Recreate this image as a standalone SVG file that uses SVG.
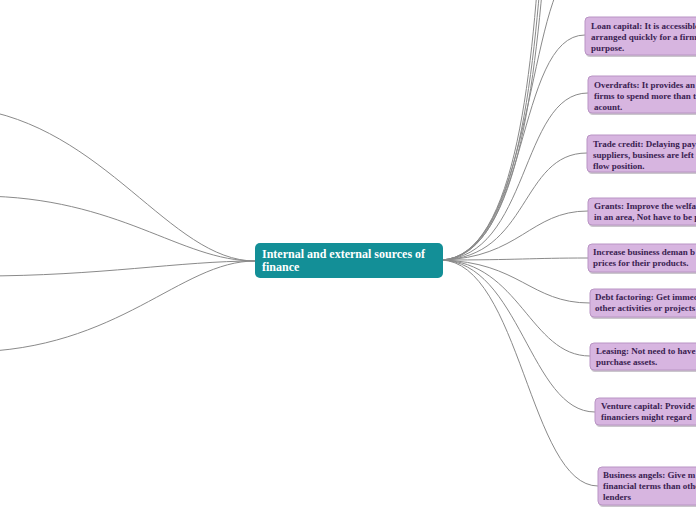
<svg xmlns="http://www.w3.org/2000/svg" width="696" height="520" viewBox="0 0 696 520">
<style>
.c{fill:none;stroke:#8a8a8a;stroke-width:1}
.n rect.b{fill:#d7b5e0;stroke:#b994c4;stroke-width:1}
.n rect.s{fill:#a9a0ab;opacity:0.6}
.n text{font-family:"Liberation Serif","Times New Roman",serif;font-weight:bold;font-size:9px;fill:#3a2150}
#root text{font-family:"Liberation Serif","Times New Roman",serif;font-weight:bold;font-size:12px;fill:#ffffff}
</style>
<rect width="696" height="520" fill="#ffffff"/>
<g id="connectors">
<path class="c" d="M255,261 C170,261 105,125 -30,108"/>
<path class="c" d="M255,261 C180,261 120,197 -20,196"/>
<path class="c" d="M255,261 C180,261 100,276 -20,276"/>
<path class="c" d="M255,261 C180,261 120,350 -30,352"/>
<path class="c" d="M441,260 C518,258 533,60 542,-80"/>
<path class="c" d="M441,260 C520,258 535,60 545,-80"/>
<path class="c" d="M441,260 C522,258 537,60 548,-80"/>
<path class="c" d="M441,260 C528,258 528,10 570,-30"/>
<path class="c" d="M441,260 C530,258 515,35 585,35"/>
<path class="c" d="M441,260 C530,258 520,93 588,93"/>
<path class="c" d="M441,260 C530,258 520,153 587,153"/>
<path class="c" d="M441,260 C520,258 530,211 588,211"/>
<path class="c" d="M441,260 C520,260 530,258 588,258"/>
<path class="c" d="M441,260 C520,262 530,303 590,303"/>
<path class="c" d="M441,260 C520,262 530,356 590,356"/>
<path class="c" d="M441,260 C520,262 530,412 595,412"/>
<path class="c" d="M441,260 C520,262 530,486 598,486"/>
</g>
<g id="root">
<rect x="255" y="243" width="188" height="35" rx="5" fill="#138f97"/>
<text x="262" y="258">Internal and external sources of</text>
<text x="262" y="271">finance</text>
</g>
<g id="n1" class="n">
<rect class="s" x="586" y="19" width="200" height="38" rx="4"/>
<rect class="b" x="585" y="17" width="200" height="38" rx="4"/>
<text x="591" y="29">Loan capital: It is accessible</text>
<text x="591" y="40">arranged quickly for a firm</text>
<text x="591" y="51">purpose.</text>
</g>
<g id="n2" class="n">
<rect class="s" x="589" y="78" width="200" height="37" rx="4"/>
<rect class="b" x="588" y="76" width="200" height="37" rx="4"/>
<text x="594" y="88">Overdrafts: It provides an</text>
<text x="594" y="99">firms to spend more than t</text>
<text x="594" y="110">acount.</text>
</g>
<g id="n3" class="n">
<rect class="s" x="588" y="137" width="200" height="37" rx="4"/>
<rect class="b" x="587" y="135" width="200" height="37" rx="4"/>
<text x="593" y="147">Trade credit: Delaying pay</text>
<text x="593" y="158">suppliers, business are left i</text>
<text x="593" y="169">flow position.</text>
</g>
<g id="n4" class="n">
<rect class="s" x="589" y="200" width="200" height="27" rx="4"/>
<rect class="b" x="588" y="198" width="200" height="27" rx="4"/>
<text x="594" y="209">Grants: Improve the welfa</text>
<text x="594" y="220">in an area, Not have to be p</text>
</g>
<g id="n5" class="n">
<rect class="s" x="589" y="246" width="200" height="28" rx="4"/>
<rect class="b" x="588" y="244" width="200" height="28" rx="4"/>
<text x="593" y="255">Increase business deman b</text>
<text x="593" y="266">prices for their products.</text>
</g>
<g id="n6" class="n">
<rect class="s" x="591" y="291" width="200" height="28" rx="4"/>
<rect class="b" x="590" y="289" width="200" height="28" rx="4"/>
<text x="595" y="300">Debt factoring: Get immed</text>
<text x="595" y="311">other activities or projects</text>
</g>
<g id="n7" class="n">
<rect class="s" x="591" y="345" width="200" height="27" rx="4"/>
<rect class="b" x="590" y="343" width="200" height="27" rx="4"/>
<text x="596" y="354">Leasing: Not need to have</text>
<text x="596" y="365">purchase assets.</text>
</g>
<g id="n8" class="n">
<rect class="s" x="596" y="400" width="200" height="27" rx="4"/>
<rect class="b" x="595" y="398" width="200" height="27" rx="4"/>
<text x="601" y="409">Venture capital: Provide</text>
<text x="601" y="420">financiers might regard</text>
</g>
<g id="n9" class="n">
<rect class="s" x="599" y="469" width="200" height="38" rx="4"/>
<rect class="b" x="598" y="467" width="200" height="38" rx="4"/>
<text x="603" y="478">Business angels: Give m</text>
<text x="603" y="489">financial terms than othe</text>
<text x="603" y="500">lenders</text>
</g>
</svg>
